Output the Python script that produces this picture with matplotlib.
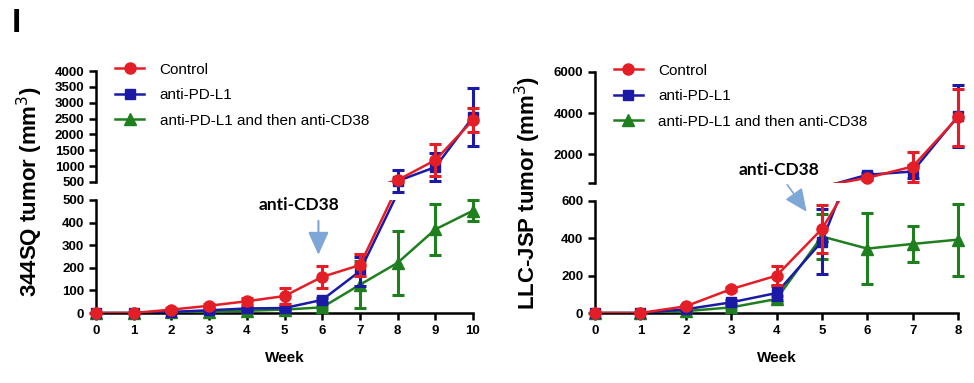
"""
Tumor growth curves, 344SQ and LLC-JSP, broken y axis
"""

import matplotlib
matplotlib.use("Agg")
import matplotlib.pyplot as plt
import numpy as np

plt.rcParams["font.family"] = ["Liberation Sans", "DejaVu Sans"]

# ── data ──────────────────────────────────────────────
WEEKS_SQ = np.arange(0, 11)
SQ_CTRL = [0, 0, 15, 32, 52, 75, 160, 212, 560, 1190, 2450]
SQ_CTRL_ERR = [0, 0, 5, 8, 15, 37, 48, 50, 60, 500, 370]
SQ_PDL1 = [0, 0, 5, 12, 20, 22, 58, 185, 530, 970, 2550]
SQ_PDL1_ERR = [0, 0, 3, 5, 8, 8, 10, 65, 350, 445, 900]
SQ_COMBO = [0, 0, 3, 5, 10, 15, 25, 125, 222, 370, 453]
SQ_COMBO_ERR = [0, 0, 2, 3, 5, 5, 8, 105, 142, 112, 45]

WEEKS_LLC = np.arange(0, 9)
LLC_CTRL = [0, 0, 36, 128, 200, 450, 850, 1400, 3800]
LLC_CTRL_ERR = [0, 0, 8, 12, 50, 130, 100, 730, 1380]
LLC_PDL1 = [0, 0, 20, 57, 107, 383, 1000, 1160, 3850]
LLC_PDL1_ERR = [0, 0, 5, 10, 40, 175, 100, 300, 1500]
LLC_COMBO = [0, 0, 10, 30, 75, 410, 345, 370, 393]
LLC_COMBO_ERR = [0, 0, 3, 8, 15, 120, 192, 96, 193]

LABELS = ["Control", "anti-PD-L1", "anti-PD-L1 and then anti-CD38"]
COLORS = ["#E41E26", "#1A1AA6", "#1F7F1F"]
MARKERS = ["o", "s", "^"]
MSIZE = [8, 7.5, 8]
ARROW_COLOR = "#7EA6D6"

W, H = 974, 383


def px_rect(x0, y_top, x1, y_bot):
    """像素框 -> figure 比例"""
    return [x0 / W, 1 - y_bot / H, (x1 - x0) / W, (y_bot - y_top) / H]


def style_axis(ax, lower):
    for s in ["top", "right"]:
        ax.spines[s].set_visible(False)
    ax.spines["left"].set_linewidth(1.8)
    ax.spines["bottom"].set_linewidth(1.8)
    ax.tick_params(axis="both", direction="out", length=5, width=1.8,
                   labelsize=9.5)
    for lab in ax.get_yticklabels() + ax.get_xticklabels():
        lab.set_fontweight("bold")
    if not lower:
        ax.spines["bottom"].set_visible(False)
        ax.tick_params(axis="x", bottom=False, labelbottom=False)


def draw_series(ax, weeks, series, ylim):
    lo, hi = ylim
    # green first so red ends on top
    for i in [2, 1, 0]:
        y = np.asarray(series[i][0], float)
        err = np.asarray(series[i][1], float)
        z = 3 + (2 - i)
        ax.plot(weeks, y, color=COLORS[i], lw=1.8, zorder=z)
        keep = (y >= lo) & (y <= hi)
        if keep.any():
            eb = ax.errorbar(weeks[keep], y[keep], yerr=err[keep], fmt="none",
                             ecolor=COLORS[i], elinewidth=2.2, capsize=4,
                             capthick=2.2, zorder=z)
            for art in eb.get_children():
                art.set_clip_on(False)
            ax.plot(weeks[keep], y[keep], ls="none", marker=MARKERS[i],
                    markersize=MSIZE[i], color=COLORS[i], zorder=z + 0.5,
                    clip_on=False)
    handles = [ax.plot([], [], color=COLORS[i], lw=1.8, marker=MARKERS[i],
                       markersize=MSIZE[i], label=LABELS[i])[0]
               for i in range(3)]
    return handles


def panel(fig, x0, x1, y_up, y_lo, weeks, series, up_lim, up_ticks,
          up_labels, lo_lim, lo_ticks, ylabel, ylabel_x, xmax):
    ax_up = fig.add_axes(px_rect(x0, y_up[0], x1, y_up[1]))
    ax_lo = fig.add_axes(px_rect(x0, y_lo[0], x1, y_lo[1]))

    handles = draw_series(ax_up, weeks, series, up_lim)
    draw_series(ax_lo, weeks, series, lo_lim)

    for ax in (ax_up, ax_lo):
        ax.set_xlim(0, xmax)
        ax.set_xticks(weeks)

    ax_up.set_ylim(*up_lim)
    ax_up.set_yticks(up_ticks)
    ax_up.set_yticklabels(up_labels)
    ax_lo.set_ylim(*lo_lim)
    ax_lo.set_yticks(lo_ticks)
    ax_lo.set_xlabel("Week", fontsize=11, fontweight="bold", labelpad=10)

    style_axis(ax_up, lower=False)
    style_axis(ax_lo, lower=True)

    ax_up.legend(handles=handles, loc="upper left",
                 bbox_to_anchor=(0.035, 1.13), frameon=False,
                 fontsize=11, handlelength=1.9, handletextpad=1.0,
                 labelspacing=0.75, borderaxespad=0)

    yc = (y_up[0] + y_lo[1]) / 2
    fig.text(ylabel_x / W, 1 - yc / H, ylabel, rotation=90, ha="center",
             va="center", fontsize=16, fontweight="bold")
    return ax_up, ax_lo


def main():
    fig = plt.figure(figsize=(W / 100, H / 100), dpi=100)

    sq_series = [(SQ_CTRL, SQ_CTRL_ERR), (SQ_PDL1, SQ_PDL1_ERR),
                 (SQ_COMBO, SQ_COMBO_ERR)]
    llc_series = [(LLC_CTRL, LLC_CTRL_ERR), (LLC_PDL1, LLC_PDL1_ERR),
                  (LLC_COMBO, LLC_COMBO_ERR)]

    up_sq = list(range(500, 4001, 500))
    _, lo1 = panel(fig, 96, 473, (71, 182), (200, 313), WEEKS_SQ, sq_series,
                   (500, 4000), up_sq, [str(t) for t in up_sq],
                   (0, 500), list(range(0, 501, 100)),
                   "344SQ tumor (mm$^{3}$)", 30, 10)

    _, lo2 = panel(fig, 595, 958, (72, 183), (201, 313), WEEKS_LLC,
                   llc_series, (600, 6000), [600, 2000, 4000, 6000],
                   ["", "2000", "4000", "6000"],
                   (0, 600), [0, 200, 400, 600],
                   "LLC-JSP tumor (mm$^{3}$)", 528, 8)

    # ── anti-CD38 箭头 ──
    lo1.annotate("", xy=(5.9, 245), xytext=(5.9, 420),
                 arrowprops=dict(arrowstyle="-|>,head_width=0.45,head_length=1.0",
                                 color=ARROW_COLOR, lw=1.5, mutation_scale=14),
                 annotation_clip=False)
    lo1.text(5.38, 478, "anti-CD38", ha="center", va="center",
             fontsize=12.5, fontweight="bold", family=["Lato", "DejaVu Sans"],
             clip_on=False)

    lo2.annotate("", xy=(4.7, 530), xytext=(4.2, 700),
                 arrowprops=dict(arrowstyle="-|>,head_width=0.45,head_length=1.0",
                                 color=ARROW_COLOR, lw=1.2, mutation_scale=14),
                 annotation_clip=False)
    lo2.text(4.05, 768, "anti-CD38", ha="center", va="center",
             fontsize=12.5, fontweight="bold", family=["Lato", "DejaVu Sans"],
             clip_on=False)

    fig.text(12 / W, 1 - 24 / H, "I", fontsize=24, fontweight="bold",
             ha="left", va="center")

    fig.savefig("out.png", dpi=100)
    plt.close(fig)


if __name__ == "__main__":
    main()
